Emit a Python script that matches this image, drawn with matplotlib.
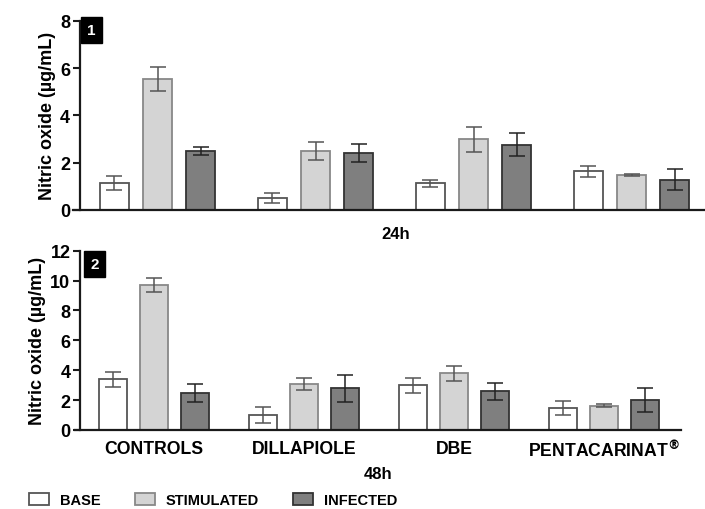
import numpy as np
import matplotlib
matplotlib.use("Agg")
import matplotlib.pyplot as plt
from matplotlib.patches import Patch

plt.rcParams['font.family'] = ['Liberation Sans', 'DejaVu Sans']
plt.rcParams['font.weight'] = 'bold'

# data
groups = ['CONTROLS', 'DILLAPIOLE', 'DBE', 'PENTACARINAT$^{\\circledR}$']
conditions = ['BASE', 'STIMULATED', 'INFECTED']

# 24h
base_24 = [1.13, 0.51, 1.13, 1.63]
base_24_err = [0.30, 0.20, 0.15, 0.25]
stim_24 = [5.54, 2.48, 2.99, 1.49]
stim_24_err = [0.50, 0.38, 0.52, 0.04]
inf_24 = [2.49, 2.41, 2.76, 1.28]
inf_24_err = [0.16, 0.40, 0.48, 0.45]

# 48h
base_48 = [3.39, 1.00, 2.99, 1.47]
base_48_err = [0.49, 0.56, 0.49, 0.45]
stim_48 = [9.70, 3.08, 3.81, 1.63]
stim_48_err = [0.49, 0.38, 0.50, 0.09]
inf_48 = [2.45, 2.79, 2.59, 2.01]
inf_48_err = [0.60, 0.91, 0.56, 0.78]

fills = ['white', '#d4d4d4', '#7f7f7f']
edges = ['#555555', '#888888', '#333333']
err_cols = ['#555555', '#555555', '#222222']

fig = plt.figure(figsize=(7.05, 5.10), dpi=100)
W, H = 705, 510

ax1 = fig.add_axes([73 / W, 1 - 211 / H, (705 - 73) / W, (211 - 21.7) / H])
ax2 = fig.add_axes([75 / W, 1 - 431 / H, (681 - 75) / W, (431 - 251.7) / H])

x = np.arange(len(groups))
step = 0.273
width = 0.185


def draw_panel(ax, series, errs, ymax, yticks, xlim, spine_x):
    for i, (vals, err) in enumerate(zip(series, errs)):
        pos = x + (i - 1) * step
        ax.bar(pos, vals, width, color=fills[i], edgecolor=edges[i], linewidth=1.3, zorder=2)
        ax.errorbar(pos, vals, yerr=err, fmt='none', ecolor=err_cols[i],
                    elinewidth=1.1, capsize=5.5, capthick=1.1, zorder=3)
    ax.set_xlim(*xlim)
    ax.set_ylim(0, ymax)
    ax.set_yticks(yticks)
    ax.spines['top'].set_visible(False)
    ax.spines['right'].set_visible(False)
    ax.spines['left'].set_position(('data', spine_x))
    for s in ['left', 'bottom']:
        ax.spines[s].set_linewidth(1.6)
        ax.spines[s].set_color('#1a1a1a')
    ax.tick_params(axis='y', length=5, width=1.5, pad=2, labelsize=13, color='#1a1a1a')
    ax.tick_params(axis='x', length=0)
    ax.set_ylabel('Nitric oxide (µg/mL)', fontsize=13, fontweight='bold', labelpad=3)
    for lab in ax.get_yticklabels():
        lab.set_fontweight('bold')


draw_panel(ax1, [base_24, stim_24, inf_24], [base_24_err, stim_24_err, inf_24_err],
           8, [0, 2, 4, 6, 8], (-0.535, 3.465), -0.491)
ax1.set_xticks([])

draw_panel(ax2, [base_48, stim_48, inf_48], [base_48_err, stim_48_err, inf_48_err],
           12, [0, 2, 4, 6, 8, 10, 12], (-0.527, 3.513), -0.493)
ax2.set_xticks(x)
ax2.set_xticklabels(groups, fontsize=12.7, fontweight='bold')
ax2.tick_params(axis='x', pad=7)

# panel numbers
ax1.text(0.029, 0.95, '1', transform=ax1.transAxes, color='white', fontsize=11,
         fontweight='bold', ha='center', va='center',
         bbox=dict(boxstyle='square,pad=0.4', facecolor='black', edgecolor='black'))
ax2.text(0.032, 0.925, '2', transform=ax2.transAxes, color='white', fontsize=11,
         fontweight='bold', ha='center', va='center',
         bbox=dict(boxstyle='square,pad=0.4', facecolor='black', edgecolor='black'))

fig.text(396 / W, 1 - 235 / H, '24h', fontsize=12, fontweight='bold', ha='center', va='center')
fig.text(378 / W, 1 - 475 / H, '48h', fontsize=12, fontweight='bold', ha='center', va='center')

handles = [Patch(facecolor=fills[i], edgecolor=edges[i], linewidth=1.3) for i in range(3)]
fig.legend(handles, conditions, loc='center left', bbox_to_anchor=(29 / W, 1 - 501 / H),
           ncol=3, frameon=False, handlelength=1.4, handleheight=0.9,
           handletextpad=0.75, columnspacing=2.3, borderpad=0, borderaxespad=0,
           prop={'weight': 'bold', 'size': 10.5})

fig.savefig('out.png', dpi=100)
